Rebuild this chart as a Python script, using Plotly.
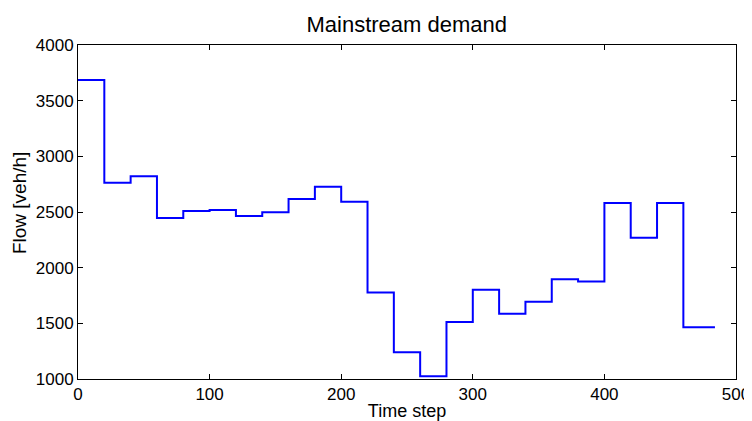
import plotly.graph_objects as go

# Data: piecewise-constant demand, one value per 20-step interval
time_steps = [0, 20, 40, 60, 80, 100, 120, 140, 160, 180, 200, 220, 240,
              260, 280, 300, 320, 340, 360, 380, 400, 420, 440, 460, 484]
flow = [3685, 2762, 2820, 2447, 2509, 2518, 2464, 2497, 2617, 2726, 2593,
        1778, 1240, 1024, 1513, 1801, 1585, 1693, 1897, 1876, 2581, 2269,
        2581, 1465, 1465]

x_ticks = [0, 100, 200, 300, 400, 500]
y_ticks = [1000, 1500, 2000, 2500, 3000, 3500, 4000]

FONT = "Liberation Sans, Arial, Helvetica, sans-serif"

fig = go.Figure()
fig.add_trace(go.Scatter(
    x=time_steps, y=flow, mode="lines",
    line=dict(shape="hv", color="#0000FF", width=2),
    showlegend=False, hoverinfo="skip",
))

axis_common = dict(
    showline=True, linecolor="black", linewidth=1, mirror="ticks",
    ticks="inside", ticklen=5, tickwidth=1, tickcolor="black",
    showgrid=False, zeroline=False, automargin=False,
    tickfont=dict(family=FONT, size=17, color="black"),
)

# The page body adds an 8px offset, so the figure is sized to fit the window.
fig.update_layout(
    width=744, height=413,
    paper_bgcolor="white", plot_bgcolor="white",
    margin=dict(l=70, r=16, t=37, b=42),
    title=dict(text="Mainstream demand", x=0.536, xanchor="center",
               y=0.961, yanchor="middle",
               font=dict(family=FONT, size=22, color="black")),
    xaxis=dict(range=[0, 500], tickvals=x_ticks, ticktext=[str(v) for v in x_ticks],
               title=dict(text="Time step", standoff=0,
                          font=dict(family=FONT, size=18, color="black")),
               **axis_common),
    yaxis=dict(range=[1000, 4000], tickvals=y_ticks, ticktext=[str(v) for v in y_ticks],
               **axis_common),
    annotations=[dict(
        text="Flow [veh/h]", textangle=-90, showarrow=False,
        xref="paper", yref="paper", x=-0.088, y=0.527,
        xanchor="center", yanchor="middle",
        font=dict(family=FONT, size=19, color="black"),
    )],
)

fig.write_html("out.html")
